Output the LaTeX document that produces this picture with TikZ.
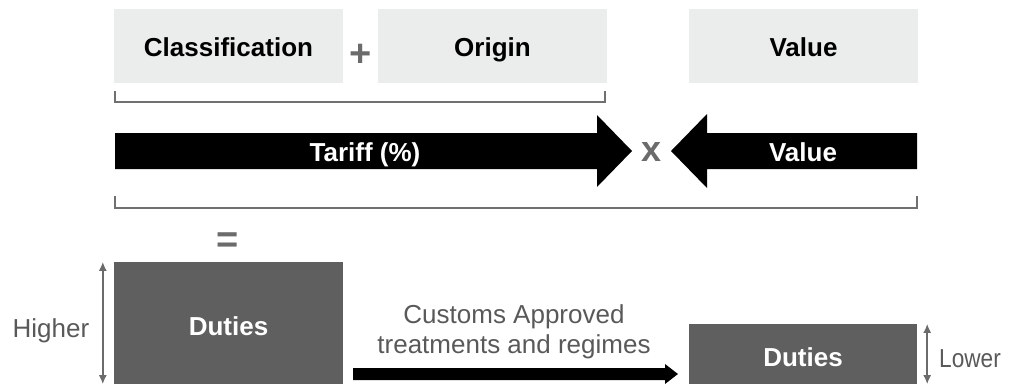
\documentclass[tikz,border=0pt]{standalone}
\usepackage{fontspec}
\setmainfont{Liberation Sans}
\usetikzlibrary{arrows.meta}
\definecolor{boxgray}{HTML}{EBECEC}
\definecolor{dutygray}{HTML}{5F5F5F}
\definecolor{txtgray}{HTML}{595959}
\definecolor{symgray}{HTML}{6B6B6B}
\definecolor{brgray}{HTML}{707070}
\begin{document}
\begin{tikzpicture}[x=1pt,y=-1pt,
 topbox/.style={fill=boxgray, minimum width=229pt, minimum height=74pt, inner sep=0pt, text height=21pt, text depth=0pt, font=\fontsize{26}{30}\selectfont\bfseries},
 dutybox/.style={fill=dutygray, text=white, minimum width=229pt, inner sep=0pt, text height=24pt, text depth=0pt, font=\fontsize{26}{30}\selectfont\bfseries},
 arrowtxt/.style={text=white, font=\fontsize{26}{30}\selectfont\bfseries, anchor=base, inner sep=0pt},
 sym/.style={text=symgray, font=\fontsize{38}{40}\selectfont\bfseries, anchor=base, inner sep=0pt},
 side/.style={text=txtgray, font=\fontsize{26}{30}\selectfont, anchor=base, inner sep=0pt},
 bracket/.style={draw=brgray, line width=2.4pt},
 dbl/.style={draw=symgray, line width=2pt, {Latex[length=9pt,width=8pt]}-{Latex[length=9pt,width=8pt]}},
 bigarrow/.style={fill=black},
]
\useasboundingbox (0,0) rectangle (1015,384);

% top row
\node[topbox] (cls) at (228.5,46) {Classification};
\node[topbox] (org) at (492.5,46) {Origin};
\node[topbox] (val) at (803.5,46) {Value};
\node[sym] (plus) at (361,66) {+};

% bracket under classification + origin
\draw[bracket] (115,91) -- (115,102) -- (605,102) -- (605,91);

% tariff arrow
\fill[bigarrow] (115,133) -- (597,133) -- (597,115) -- (632,151) -- (597,187) -- (597,169) -- (115,169) -- cycle;
\node[arrowtxt] (tariff) at (365,161) {Tariff (\%)};
\node[sym, font=\fontsize{36}{40}\selectfont\bfseries] (times) at (652,161) {x};
% value arrow
\fill[bigarrow] (917,133) -- (707,133) -- (707,114) -- (671,151) -- (707,188) -- (707,169) -- (917,169) -- cycle;
\node[arrowtxt] (valarrow) at (803,161) {Value};

% bracket under both arrows
\draw[bracket] (115,196) -- (115,208) -- (917,208) -- (917,196);

\node[sym] (eq) at (228,252) {=};

% duties
\node[dutybox, minimum height=122pt] (d1) at (228.5,323) {Duties};
\node[dutybox, minimum width=228pt, minimum height=60pt] (d2) at (803,354) {Duties};

\draw[dbl] ([xshift=-11pt]d1.north west) -- ([xshift=-11pt]d1.south west);
\draw[dbl] ([xshift=10pt]d2.north east) -- ([xshift=10pt]d2.south east);

\node[side] (hi) at (51,337) {Higher};
\node[side, anchor=base west] (lo) at (939,367) {\scalebox{0.87}[1]{Lower}};

\node[side] (c1) at (514,323) {Customs Approved};
\node[side] (c2) at (514,353) {treatments and regimes};

\fill[bigarrow] (353,368) -- (665,368) -- (665,364) -- (678,374) -- (665,384) -- (665,380) -- (353,380) -- cycle;
\end{tikzpicture}
\end{document}
